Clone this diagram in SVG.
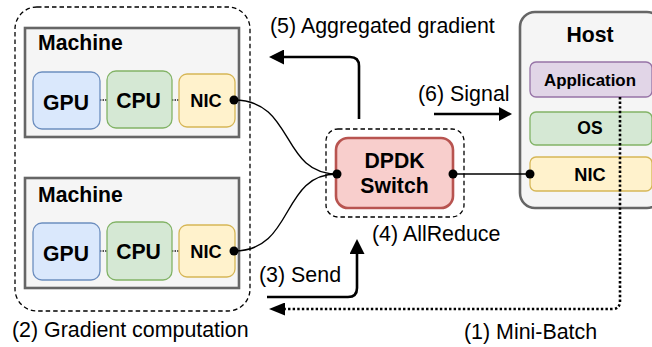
<svg xmlns="http://www.w3.org/2000/svg" width="652" height="347" viewBox="0 0 652 347">
  <defs>
    <style>
      text { font-family: "Liberation Sans", Arial, Helvetica, sans-serif; fill: #000; }
      .lbl { font-size: 21.4px; }
      .bt { font-size: 21.2px; font-weight: bold; }
      .b { font-weight: bold; }
      .mid { text-anchor: middle; }
      .frame { fill: #f5f5f5; stroke: #666666; stroke-width: 2.6; }
      .group { fill: none; stroke: #000; stroke-width: 1.3; stroke-dasharray: 4.5 3; }
      .gpu { fill: #dae8fc; stroke: #6c8ebf; stroke-width: 1.3; }
      .cpu { fill: #d5e8d4; stroke: #82b366; stroke-width: 1.3; }
      .nic { fill: #fff2cc; stroke: #d6b656; stroke-width: 1.3; }
      .app { fill: #e1d5e7; stroke: #9673a6; stroke-width: 1.3; }
      .switch { fill: #f8cecc; stroke: #b85450; stroke-width: 2.6; }
      .bus { fill: none; stroke: #000; stroke-width: 1.3; stroke-dasharray: 1.3 1.3; }
      .wire { fill: none; stroke: #000; stroke-width: 1.4; }
      .flow { fill: none; stroke: #000; stroke-width: 2.6; }
      .batch { fill: none; stroke: #000; stroke-width: 2.6; stroke-dasharray: 2.4 2.2; }
      .port { fill: #000; }
    </style>
    <marker id="head" viewBox="0 0 15 15" refX="1" refY="7.5" markerWidth="15" markerHeight="15" markerUnits="userSpaceOnUse" orient="auto">
      <path d="M0,0 L15,7.5 L0,15 Z" fill="#000"/>
    </marker>
    <marker id="head-small" viewBox="0 0 13 14" refX="1" refY="7" markerWidth="13" markerHeight="14" markerUnits="userSpaceOnUse" orient="auto">
      <path d="M0,0 L13,7 L0,14 Z" fill="#000"/>
    </marker>
    <marker id="head-dot" viewBox="0 0 16 13" refX="1" refY="6.5" markerWidth="16" markerHeight="13" markerUnits="userSpaceOnUse" orient="auto">
      <path d="M0,0 L16,6.5 L0,13 Z" fill="#000"/>
    </marker>
  </defs>

  <!-- worker cluster -->
  <g id="workers">
    <rect class="group" x="15" y="7" width="235" height="304" rx="22"/>
    <text class="lbl" x="12" y="337">(2) Gradient computation</text>
  </g>

  <g id="machine1">
    <rect class="frame" x="25" y="28" width="214" height="109"/>
    <text class="bt" x="38" y="50">Machine</text>
    <line class="bus" x1="100" y1="100" x2="107" y2="100"/>
    <line class="bus" x1="172" y1="100" x2="179" y2="100"/>
    <g id="gpu1">
      <rect class="gpu" x="33" y="72" width="67" height="57" rx="9"/>
      <text class="bt mid" x="66" y="110">GPU</text>
    </g>
    <g id="cpu1">
      <rect class="cpu" x="107" y="71" width="65" height="57" rx="9"/>
      <text class="bt mid" x="138.5" y="108">CPU</text>
    </g>
    <g id="nic1">
      <rect class="nic" x="179" y="74" width="56" height="53" rx="8"/>
      <text class="b mid" x="206" y="107" font-size="18.2">NIC</text>
    </g>
  </g>

  <g id="machine2">
    <rect class="frame" x="25" y="178" width="214" height="110"/>
    <text class="bt" x="38" y="202">Machine</text>
    <line class="bus" x1="100" y1="251" x2="107" y2="251"/>
    <line class="bus" x1="172" y1="251" x2="179" y2="251"/>
    <g id="gpu2">
      <rect class="gpu" x="33" y="223" width="67" height="57" rx="9"/>
      <text class="bt mid" x="66" y="261">GPU</text>
    </g>
    <g id="cpu2">
      <rect class="cpu" x="107" y="222" width="65" height="58" rx="9"/>
      <text class="bt mid" x="138.5" y="259">CPU</text>
    </g>
    <g id="nic2">
      <rect class="nic" x="179" y="225" width="56" height="52" rx="8"/>
      <text class="b mid" x="206" y="258" font-size="18.2">NIC</text>
    </g>
  </g>

  <!-- programmable switch -->
  <g id="switch">
    <rect class="group" x="326" y="129" width="138" height="88" rx="12"/>
    <rect class="switch" x="336" y="138" width="117" height="70" rx="12"/>
    <text class="bt mid" x="394.5" y="168">DPDK</text>
    <text class="bt mid" x="394.5" y="193">Switch</text>
    <text class="lbl" x="372" y="241">(4) AllReduce</text>
  </g>

  <!-- host stack -->
  <g id="host">
    <rect class="frame" x="520" y="12" width="142" height="196" rx="15"/>
    <text class="bt mid" x="590" y="42">Host</text>
    <g id="application">
      <rect class="app" x="530" y="62" width="122" height="35" rx="6"/>
      <text class="b mid" x="590" y="86" font-size="16.9">Application</text>
    </g>
    <g id="os">
      <rect class="cpu" x="530" y="112" width="122" height="33" rx="6"/>
      <text class="b mid" x="590" y="134" font-size="17.5">OS</text>
    </g>
    <g id="host-nic">
      <rect class="nic" x="530" y="157" width="122" height="34" rx="6"/>
      <text class="b mid" x="590" y="180.5" font-size="18.2">NIC</text>
    </g>
  </g>

  <!-- links and data flows -->
  <g id="connectors">
    <path class="wire" d="M234,100 C295,100 280,174 337,174"/>
    <path class="wire" d="M234,251 C295,251 280,174 337,174"/>
    <path class="wire" d="M453,174 H530"/>
    <circle class="port" cx="234" cy="100" r="4.5"/>
    <circle class="port" cx="234" cy="251" r="4.5"/>
    <circle class="port" cx="337" cy="174" r="4.5"/>
    <circle class="port" cx="453" cy="174" r="4.5"/>
    <circle class="port" cx="530" cy="174" r="4.5"/>

    <path class="batch" d="M620,97 V301 Q620,309 612,309 H284" marker-end="url(#head-dot)"/>
    <path class="flow" d="M267,297 H348 Q357,297 357,288 V253" marker-end="url(#head)"/>
    <path class="flow" d="M359,119 V66 Q359,57 350,57 H283" marker-end="url(#head)"/>
    <path class="flow" d="M434,114 H500" marker-end="url(#head-small)"/>
  </g>

  <g id="flow-labels">
    <text class="lbl" x="270" y="33">(5) Aggregated gradient</text>
    <text class="lbl" x="418" y="101">(6) Signal</text>
    <text class="lbl" x="259" y="282">(3) Send</text>
    <text class="lbl" x="464" y="339">(1) Mini-Batch</text>
  </g>
</svg>
